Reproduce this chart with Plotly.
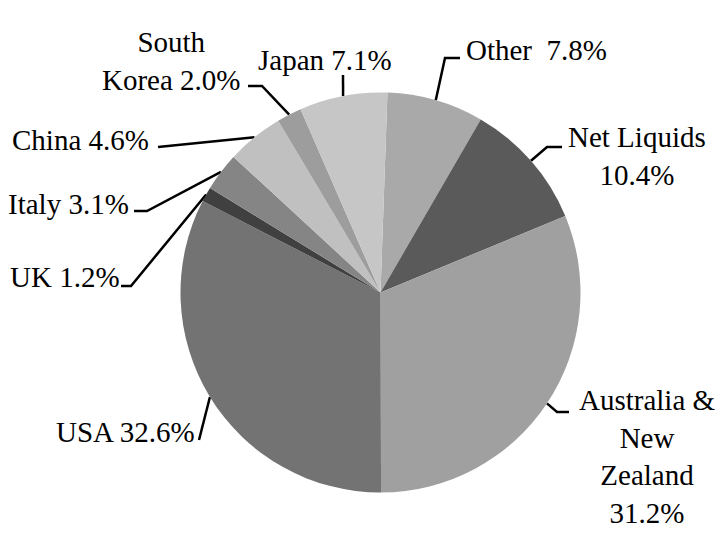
import math
import plotly.graph_objects as go

# ---- data ----
labels = ["Other", "Net Liquids", "Australia & New Zealand", "USA", "UK",
          "Italy", "China", "South Korea", "Japan"]
shares = [7.8, 10.4, 31.2, 32.6, 1.2, 3.1, 4.6, 2.0, 7.1]
label_texts = ["Other\u00a0 7.8%", "Net Liquids<br>10.4%",
               "Australia &<br>New<br>Zealand<br>31.2%", "USA 32.6%", "UK 1.2%",
               "Italy 3.1%", "China 4.6%", "South<br>Korea 2.0%", "Japan 7.1%"]

# ---- styling / layout ----
colors = ["#a9a9a9", "#5a5a5a", "#a0a0a0", "#737373", "#404040",
          "#858585", "#c0c0c0", "#9d9d9d", "#c6c6c6"]
W, H = 723, 553
OFF = 8  # page body margin: figure is drawn 8px right/down in the window
CX, CY, R = 380.5, 292.5, 200.0
ROT = 2.0
# leader line elbow / end points and label centres (window pixel layout)
elbows = [(445, 58), (547, 147), (557, 412), (199, 440), (131, 286),
          (147, 211), (158, 147), (262, 86), (343, 75)]
ends = [(460, 58), (562, 147), (569, 412), (199, 440), (121, 286),
        (134, 211), (158, 147), (248, 86), (343, 75)]
label_pos = [(536, 50), (637, 156), (647, 456), (125, 432), (65, 277),
             (68, 204), (80, 140), (171, 61), (325, 60)]

fig = go.Figure()
fig.add_trace(go.Pie(
    labels=labels, values=shares, sort=False, direction="clockwise",
    rotation=ROT, marker=dict(colors=colors, line=dict(width=0)),
    textinfo="none", hoverinfo="label+percent", showlegend=False,
    domain=dict(x=[(CX - R - OFF) / W, (CX + R - OFF) / W],
                y=[(H - (CY - OFF) - R) / H, (H - (CY - OFF) + R) / H]),
))

total = sum(shares)
cum = 0.0
font = dict(family="Liberation Serif", size=29, color="#000000")
annotations = []
for i, v in enumerate(shares):
    mid = cum + v / 2
    cum += v
    ang = math.radians(ROT + 360 * mid / total)
    sx = CX + R * math.sin(ang)
    sy = CY - R * math.cos(ang)
    xs = [sx, elbows[i][0], ends[i][0]]
    ys = [sy, elbows[i][1], ends[i][1]]
    fig.add_trace(go.Scatter(x=xs, y=ys, mode="lines", line=dict(color="black", width=2.5),
                             hoverinfo="skip", showlegend=False))
    annotations.append(dict(x=label_pos[i][0], y=label_pos[i][1], xref="x", yref="y",
                            text=label_texts[i], showarrow=False, xanchor="center",
                            yanchor="middle", align="center", font=font))

fig.update_layout(
    width=W, height=H, margin=dict(l=0, r=0, t=0, b=0),
    paper_bgcolor="white", plot_bgcolor="rgba(0,0,0,0)",
    xaxis=dict(range=[OFF, W + OFF], visible=False, domain=[0, 1], fixedrange=True),
    yaxis=dict(range=[H + OFF, OFF], visible=False, domain=[0, 1], fixedrange=True),
    annotations=annotations,
)
fig.write_html("out.html")
